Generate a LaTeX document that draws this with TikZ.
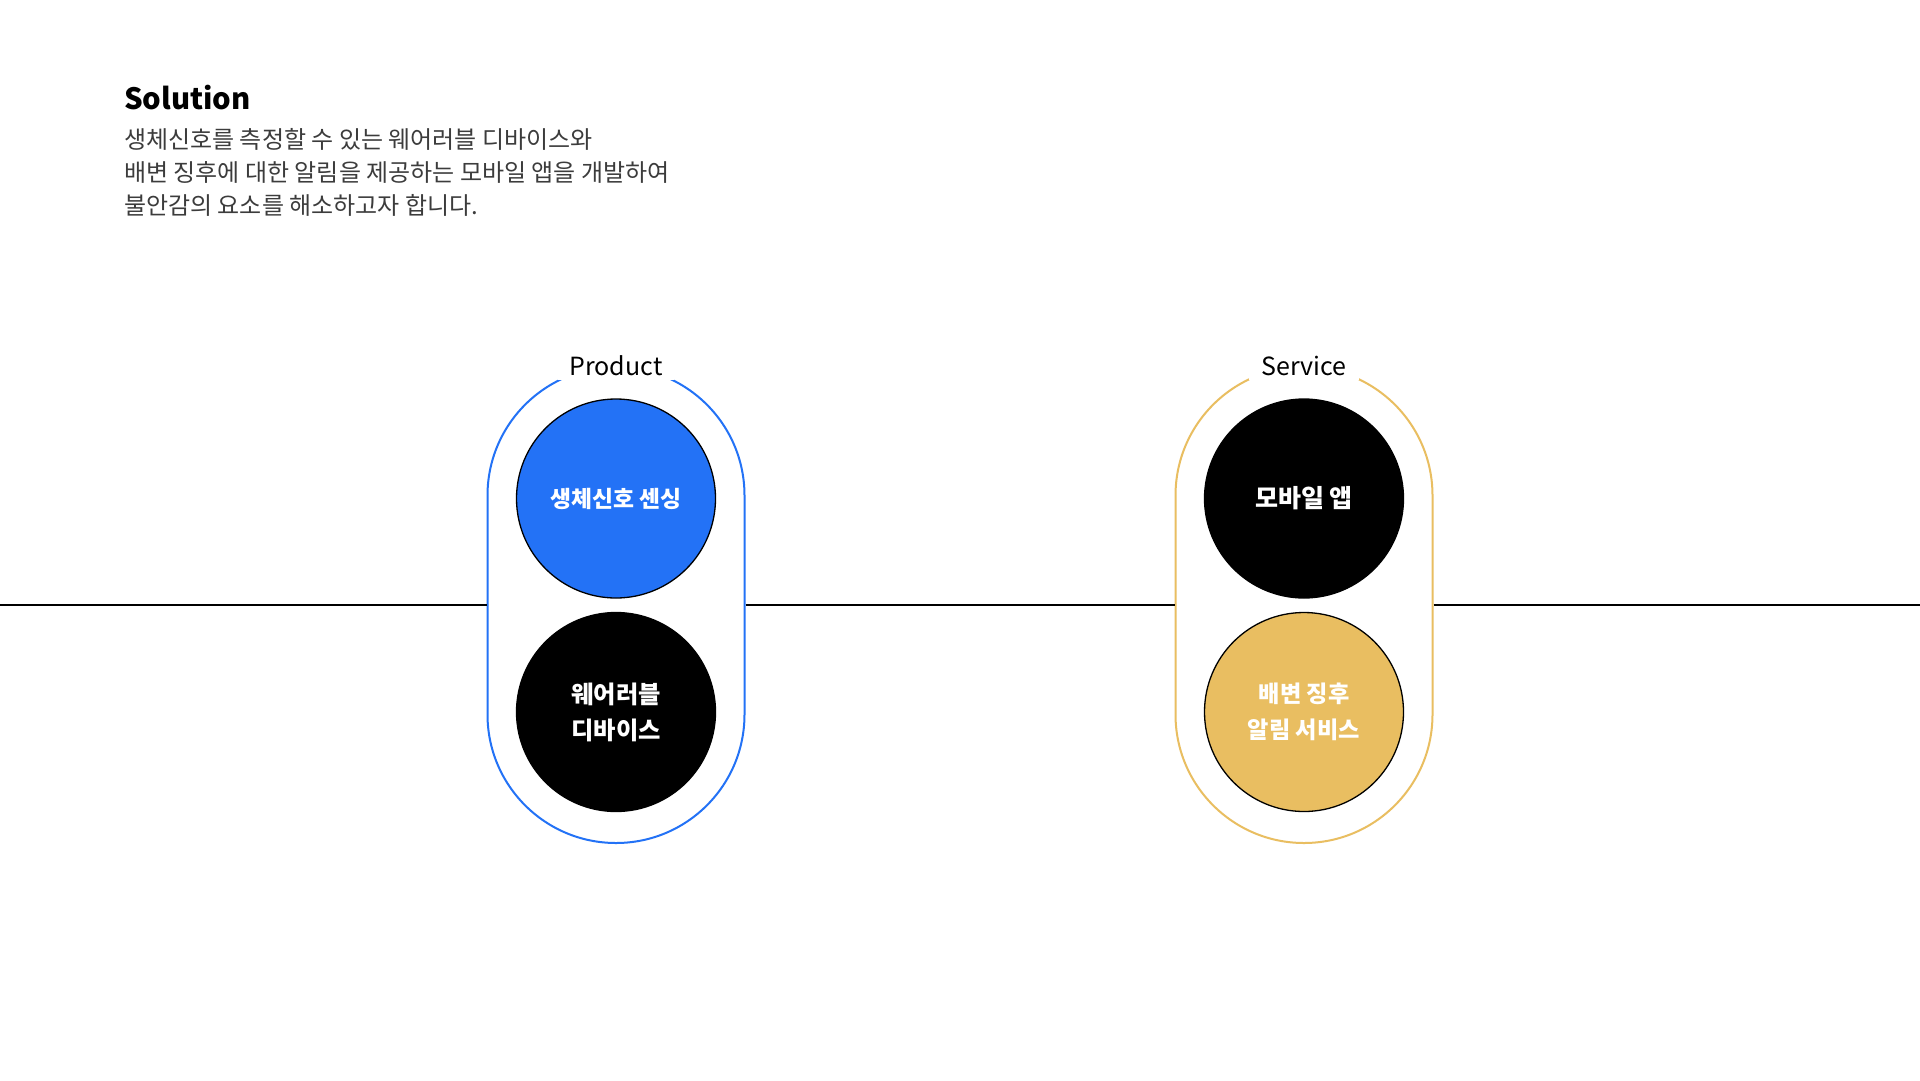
\documentclass[tikz,border=0pt]{standalone}
\usepackage{fontspec}
\setmainfont{Noto Sans CJK KR}
\definecolor{pblue}{HTML}{2372F6}
\definecolor{sgold}{HTML}{E9BE61}
\definecolor{bodygray}{HTML}{3C3C3C}
\begin{document}
\begin{tikzpicture}[x=1pt,y=-1pt,
  pill/.style={draw=#1, line width=2pt, fill=white, rectangle, rounded corners=128.5pt,
    minimum width=257pt, minimum height=476pt, inner sep=0pt},
  disc/.style={circle, fill=#1, draw=black, line width=1.3pt, minimum size=199pt, inner sep=0pt,
    text=white, align=center},
  disctext/.style={font=\bfseries\fontsize{#1}{36}\selectfont},
  tag/.style={fill=white, anchor=base, inner xsep=12pt, inner ysep=5pt, font=\fontsize{25}{30}\selectfont},
  bodyline/.style={anchor=base west, inner sep=0pt, text=bodygray, font=\fontsize{24}{33}\selectfont}
]
\useasboundingbox (0,0) rectangle (1920,1080);
\fill[white] (0,0) rectangle (1920,1080);

% title and description
\node[anchor=base west, inner sep=0pt, font=\bfseries\fontsize{29.3}{36}\selectfont] (title) at (124,109.3) {Solution};
\node[bodyline] (body1) at (124,148) {생체신호를 측정할 수 있는 웨어러블 디바이스와};
\node[bodyline] (body2) at (124,181.3) {배변 징후에 대한 알림을 제공하는 모바일 앱을 개발하여};
\node[bodyline] (body3) at (124,214.3) {불안감의 요소를 해소하고자 합니다.};

% pills
\node[pill=pblue] (ppill) at (616,605) {};
\node[pill=sgold] (spill) at (1304,605) {};

% timeline
\coordinate (lstart) at (0,605);
\coordinate (lend) at (1920,605);
\draw[line width=1.3pt] (lstart) -- (ppill.west);
\draw[line width=1.3pt] (ppill.east) -- (spill.west);
\draw[line width=1.3pt] (spill.east) -- (lend);

% labels
\node[tag] (plabel) at (616,375) {Product};
\node[tag] (slabel) at (1304,375) {Service};

% circles
\node[disc=pblue, disctext=22.8] (sensing) at (616,498.5) {생체신호 센싱};
\node[disc=black, disctext=24.3] (device) at (616,712) {웨어러블\\디바이스};
\node[disc=black, disctext=25] (app) at (1304,498.5) {모바일 앱};
\node[disc=sgold, disctext=23.2] (alert) at (1304,712) {배변 징후\\알림 서비스};
\end{tikzpicture}
\end{document}
